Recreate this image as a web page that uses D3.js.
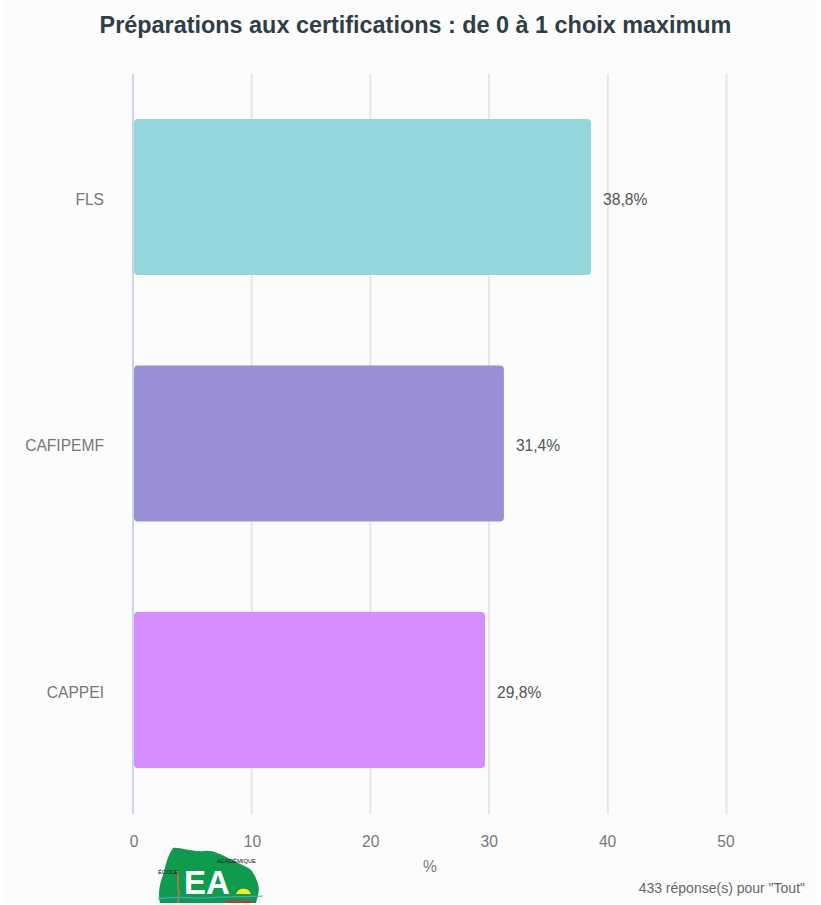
<!DOCTYPE html>
<html><head><meta charset="utf-8">
<script src="https://cdn.jsdelivr.net/npm/d3@7"></script>
<style>html,body{margin:0;padding:0;background:#fff;overflow:hidden}svg{display:block}text{font-family:"Liberation Sans",Arial,sans-serif}</style>
</head><body><div id="chart"></div>
<script>
const title = "Préparations aux certifications : de 0 à 1 choix maximum";
const categories = ["FLS","CAFIPEMF","CAPPEI"];
const values = [38.8,31.4,29.8];
const valueLabels = ["38,8%","31,4%","29,8%"];
const colors = ["#94d6dc","#988fd6","#d58dff"];
const ticks = [0,10,20,30,40,50];
const axisTitle = "%";
const footnote = '433 réponse(s) pour "Tout"';

const svg = d3.select("#chart").append("svg").attr("width",821).attr("height",905);
svg.append("rect").attr("x",5).attr("y",0).attr("width",811).attr("height",903).attr("fill","#fcfcfc");

const x = d3.scaleLinear().domain([0,50]).range([133,726.5]);
const xBar = d3.scaleLinear().domain([0,50]).range([134,723]);
const xLabel = d3.scaleLinear().domain([0,50]).range([134,726]);
const y = d3.scaleBand().domain(categories).range([73.75,813.25]).paddingInner(0.3672).paddingOuter(0.1836);

const grid = svg.append("g");
grid.selectAll("line").data(ticks).join("line")
  .attr("x1",d=>x(d)).attr("x2",d=>x(d)).attr("y1",74).attr("y2",814)
  .attr("stroke",d=>d===0?"#ccd6eb":"#e6e6e6").attr("stroke-width",2);

svg.selectAll("rect.bar").data(categories).join("rect").attr("class","bar")
  .attr("x",xBar(0)).attr("y",d=>y(d)).attr("width",(d,i)=>xBar(values[i])-xBar(0))
  .attr("height",y.bandwidth()).attr("rx",4)
  .attr("fill",(d,i)=>colors[i]);

svg.selectAll("text.cat").data(categories).join("text").attr("class","cat")
  .attr("x",104).attr("y",d=>y(d)+y.bandwidth()/2+7.5).attr("text-anchor","end")
  .attr("font-size",15.6).attr("fill","#777").text(d=>d);

svg.selectAll("text.val").data(categories).join("text").attr("class","val")
  .attr("x",(d,i)=>xBar(values[i])+12).attr("y",d=>y(d)+y.bandwidth()/2+7.5)
  .attr("font-size",15.6).attr("fill","#555").text((d,i)=>valueLabels[i]);

svg.selectAll("text.tick").data(ticks).join("text").attr("class","tick")
  .attr("x",d=>xLabel(d)).attr("y",846.5).attr("text-anchor","middle")
  .attr("font-size",15.6).attr("fill","#777").text(d=>d);

svg.append("text").attr("x",430).attr("y",871.5).attr("text-anchor","middle")
  .attr("font-size",15.6).attr("fill","#777").text(axisTitle);
svg.append("text").attr("x",415.5).attr("y",33).attr("text-anchor","middle")
  .attr("font-size",23.4).attr("font-weight","bold").attr("fill","#2f3e46").text(title);
svg.append("text").attr("x",805).attr("y",893).attr("text-anchor","end")
  .attr("font-size",14).attr("fill","#666").text(footnote);

// logo
const logo = svg.append("g");
logo.append("path").attr("fill","#0f9b4e")
  .attr("d","M173,848 C180,847 190,852 205,851 C212,850 220,854 228,858 C238,863 245,866 250,869 C254,873 256,878 258,884 C260,890 258,896 256,903 L160,903 C158,896 159,886 162,878 C165,870 166,858 173,848 Z");
logo.append("path").attr("fill","#ffe91f").attr("d","M236,894 A8,8 0 0 1 251,894 Z");
logo.append("path").attr("fill","#e8232a").attr("d","M226,901 H254 L252,903 H226 Z");
logo.append("path").attr("fill","none").attr("stroke","#c8754a").attr("stroke-width",1.5).attr("d","M177,871 C180,878 176,885 179,892 L178,903");
logo.append("path").attr("fill","none").attr("stroke","#4a9fd0").attr("stroke-width",1.2).attr("d","M158,899 C175,895 190,899 205,898 C225,896 245,897 263,896");
logo.append("text").attr("x",184).attr("y",894).attr("font-size",33).attr("font-weight","bold").attr("fill","#fff").text("EA");
logo.append("text").attr("x",217).attr("y",862.5).attr("font-size",5.8).attr("fill","#111").text("ACADÉMIQUE");
logo.append("text").attr("x",158).attr("y",874).attr("font-size",5.8).attr("fill","#111").text("ÉCOLE");
</script></body></html>
